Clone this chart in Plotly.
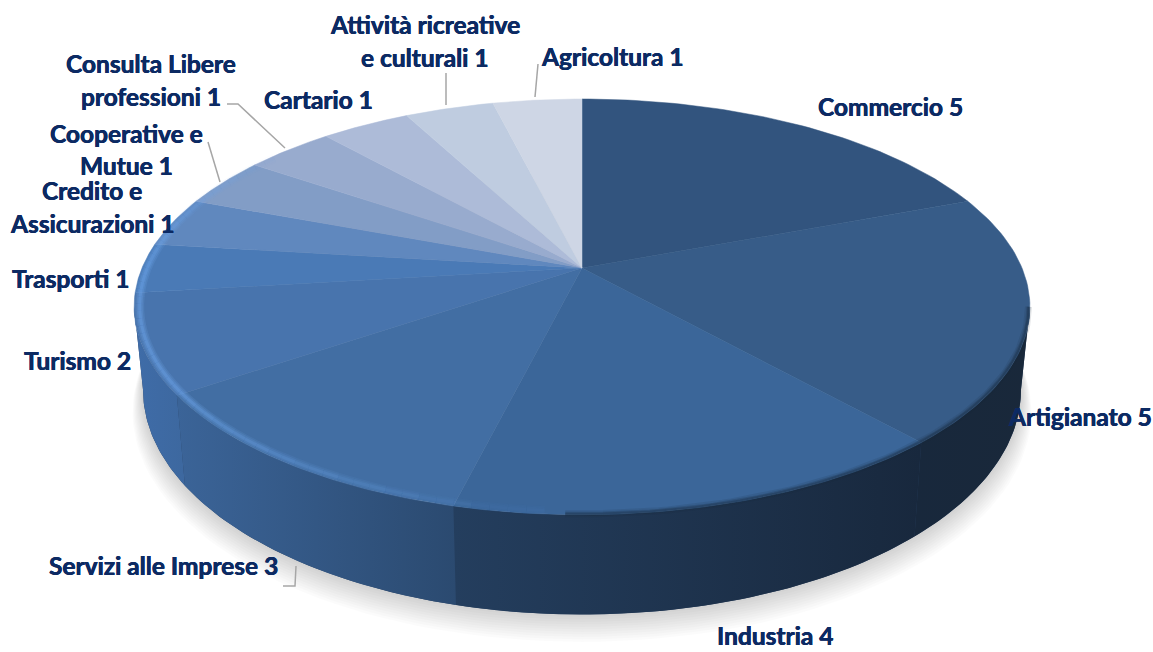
import numpy as np
import plotly.graph_objects as go

# Chart data, clockwise from twelve o'clock
categories = ["Commercio", "Artigianato", "Industria", "Servizi alle Imprese", "Turismo",
              "Trasporti", "Credito e Assicurazioni", "Cooperative e Mutue",
              "Consulta Libere professioni", "Cartario",
              "Attività ricreative e culturali", "Agricoltura"]
values = [5, 5, 4, 3, 2, 1, 1, 1, 1, 1, 1, 1]

# Slice styling
top_colors = ["#32547e", "#375c88", "#3b6699", "#426ea3", "#4874ad", "#4a7ab6",
              "#6088be", "#829dc6", "#98abce", "#adbbd8", "#bfcce0", "#ced6e5"]
side_colors = {1: ("#18283c", "#19283a"), 2: ("#243e5e", "#18283d"),
               3: ("#3b6498", "#2b4a70"), 4: ("#3f6ca8", "#3d689f")}
TEXT = "#0c2a63"
LEADER = "#a6a6a6"

# Projection of the tilted disc onto the page
CX, CY = 582.0, 268.0
RX, RY, K = 440.0, 200.6, 0.187
BOTTOM_SX, BOTTOM_SY, BOTTOM_Y = 0.98, 1.08, 348.0

# Angles at which the wall meets the disc's outline
SIL_RIGHT = np.degrees(np.arccos(-K))
SIL_LEFT = 360.0 - SIL_RIGHT


def top_pt(theta_deg, r=1.0):
    t = np.radians(theta_deg)
    u, v = r * np.sin(t), r * np.cos(t)
    w = 1 + K * v
    return CX + RX * u / w, CY - RY * v / w


def bottom_pt(theta_deg, grow=1.0, dy=0.0):
    x, y = top_pt(theta_deg)
    return (CX + (x - CX) * BOTTOM_SX * grow,
            BOTTOM_Y + (y - CY) * BOTTOM_SY * grow + dy)


def wall_outline(a0, a1, n=50):
    ts = np.linspace(a0, a1, n)
    tx, ty = zip(*[top_pt(t) for t in ts])
    bx, by = zip(*[bottom_pt(t) for t in ts[::-1]])
    return list(tx) + list(bx), list(ty) + list(by)


angles = 360.0 * np.cumsum([0] + values) / sum(values)
fig = go.Figure()

# Soft drop shadow under the disc
all_t = np.linspace(0, 360, 181)
for i in range(12):
    f = i / 11
    sx, sy = zip(*[bottom_pt(t, 1.024 - 0.024 * f, 21 - 21 * f) for t in all_t])
    fig.add_trace(go.Scatter(x=sx, y=sy, mode="lines", fill="toself", line=dict(width=0),
                             fillcolor="rgba(0,0,0,0.014)", hoverinfo="skip"))

# Backing for the wall, so the panel seams stay dark
wx, wy = wall_outline(SIL_RIGHT, SIL_LEFT, 160)
fig.add_trace(go.Scatter(x=wx, y=wy, mode="lines", fill="toself", fillcolor="#263f60",
                         line=dict(width=0), hoverinfo="skip"))

# Outer wall, one panel per visible slice
for i, (c_left, c_right) in side_colors.items():
    a0, a1 = max(angles[i], SIL_RIGHT), min(angles[i + 1], SIL_LEFT)
    wx, wy = wall_outline(a0, a1)
    fig.add_trace(go.Scatter(x=wx, y=wy, mode="lines", fill="toself", line=dict(width=0),
                             fillgradient=dict(type="horizontal",
                                               colorscale=[[0, c_left], [1, c_right]]),
                             hoverinfo="skip"))

# Flat upper face of every slice
for i, cat in enumerate(categories):
    ts = np.linspace(angles[i], angles[i + 1], 60)
    px, py = zip(*[top_pt(t) for t in ts])
    fig.add_trace(go.Scatter(x=[CX] + list(px) + [CX], y=[CY] + list(py) + [CY], mode="lines",
                             fill="toself", fillcolor=top_colors[i], name=cat,
                             line=dict(width=0.5, color=top_colors[i]), hoverinfo="skip"))


def rim_strength(t):
    """Bevel light: 0 to 1 along the lit front-left edge."""
    if t < 180 or t > 310:
        return 0.0
    if t < 235:
        return ((t - 180) / 55) ** 1.2
    if t < 270:
        return 1.0
    return (310 - t) / 40


# Bevel highlight, grouped into opacity buckets to keep the trace count low
step = 2.0
buckets = {}
for t in np.arange(180, 310, step):
    level = round(rim_strength(t + step / 2) * 10)
    if level:
        buckets.setdefault(level, []).append(t)
for level, starts in buckets.items():
    for r, width, alpha in [(0.988, 9, 0.18), (0.988, 6, 0.24), (0.988, 3, 0.32)]:
        xs, ys = [], []
        for t in starts:
            a, b = top_pt(t, r), top_pt(t + step, r)
            xs += [a[0], b[0], None]
            ys += [a[1], b[1], None]
        fig.add_trace(go.Scatter(x=xs, y=ys, mode="lines", hoverinfo="skip",
                                 line=dict(width=width, color=f"rgba(110,165,235,{alpha * level / 10:.3f})")))

# Dark soft edge along the unlit right side
ts = np.arange(SIL_RIGHT, 182, 1.0)
edge = [top_pt(t, 0.997) for t in ts]
for width, alpha in [(7, 0.12), (4, 0.22), (2, 0.30)]:
    fig.add_trace(go.Scatter(x=[p[0] for p in edge], y=[p[1] for p in edge], mode="lines",
                             hoverinfo="skip",
                             line=dict(width=width, color=f"rgba(24,40,60,{alpha})")))

# Leader lines
leaders = [([227, 238, 285], [104, 104, 148]),
           ([208, 220], [142, 182]),
           ([446, 446], [73, 105]),
           ([538, 535], [64, 97]),
           ([296, 295, 283], [566, 586, 586])]
for lx, ly in leaders:
    fig.add_trace(go.Scatter(x=lx, y=ly, mode="lines", hoverinfo="skip",
                             line=dict(color=LEADER, width=1.5)))

# Label text, broken over lines where the slice name wraps
label_lines = [["Commercio"], ["Artigianato"], ["Industria"], ["Servizi alle Imprese"], ["Turismo"],
               ["Trasporti"], ["Credito e", "Assicurazioni"], ["Cooperative e", "Mutue"],
               ["Consulta Libere", "professioni"], ["Cartario"],
               ["Attività ricreative", "e culturali"], ["Agricoltura"]]
label_anchor = [(890, [106]), (1080, [416]), (775, [635]), (163, [565]), (77, [360]),
                (70, [278]), (92, [190, 223]), (126, [133, 165]), (151, [63, 96]),
                (318, [99]), (425, [24, 57]), (612, [56])]
annotations = []
for lines, val, (ax, ays) in zip(label_lines, values, label_anchor):
    texts = list(lines)
    texts[-1] = f"{texts[-1]} {val}"
    for text, ay in zip(texts, ays):
        annotations.append(dict(x=ax, y=ay, text=text, showarrow=False, xanchor="center",
                                yanchor="middle",
                                font=dict(family="Lato", size=24.5, color=TEXT, weight="bold",
                                          shadow=f"0.35px 0 0 {TEXT}, -0.35px 0 0 {TEXT}")))

fig.update_layout(
    width=1153, height=652, margin=dict(l=0, r=0, t=0, b=0),
    paper_bgcolor="white", plot_bgcolor="white", showlegend=False,
    xaxis=dict(range=[0, 1153], visible=False, fixedrange=True),
    yaxis=dict(range=[652, 0], visible=False, fixedrange=True),
    annotations=annotations,
)
fig.write_html("out.html", config=dict(displayModeBar=False))
